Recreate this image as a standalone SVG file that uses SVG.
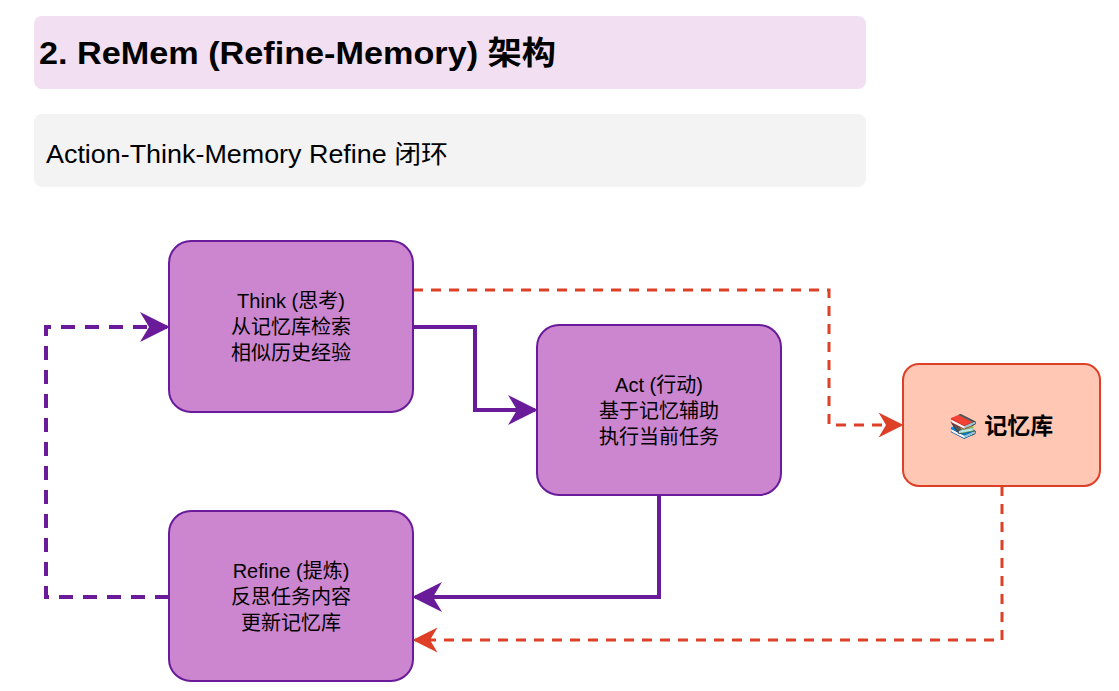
<svg xmlns="http://www.w3.org/2000/svg" width="1119" height="691" viewBox="0 0 1119 691">
<style>
text{font-family:"Liberation Sans","Noto Sans CJK SC",sans-serif;fill:#000}
.n{fill:#cb86cf;stroke:#6a1b9a;stroke-width:2}
.t{font-size:20px;text-anchor:middle}
.p{fill:none;stroke:#6a1b9a;stroke-width:4}
.r{fill:none;stroke:#dd3f27;stroke-width:3;stroke-dasharray:10 8}
</style>
<defs>
<marker id="apl" viewBox="0 0 10 10" refX="9" refY="5" markerWidth="30" markerHeight="30" markerUnits="userSpaceOnUse" orient="auto"><path d="M0,0 L10,5 L0,10 L3,5 Z" fill="#6a1b9a"/></marker>
<marker id="arl" viewBox="0 0 10 10" refX="9" refY="5" markerWidth="25" markerHeight="25" markerUnits="userSpaceOnUse" orient="auto"><path d="M0,0 L10,5 L0,10 L3,5 Z" fill="#dd3f27"/></marker>
</defs>
<g id="title"><rect x="34" y="16" width="832" height="73" rx="8" fill="#f2e0f2"/><text x="39" y="64" font-size="32" font-weight="bold" textLength="517" lengthAdjust="spacingAndGlyphs">2. ReMem (Refine-Memory) 架构</text></g>
<g id="subtitle"><rect x="34" y="114" width="832" height="73" rx="8" fill="#f3f3f3"/><text x="46" y="163" font-size="25" textLength="402" lengthAdjust="spacingAndGlyphs">Action-Think-Memory Refine 闭环</text></g>
<g id="connectors">
<path class="p" d="M413,327 H475 V410 H535" marker-end="url(#apl)"/>
<path class="p" d="M659,495 V597 H415" marker-end="url(#apl)"/>
<path class="p" d="M169,597 H46 V327 H167" stroke-dasharray="14 10" marker-end="url(#apl)"/>
<path class="r" d="M413,290 H829 V425 H901" marker-end="url(#arl)"/>
<path class="r" d="M1002,486 V640 H415" marker-end="url(#arl)"/>
</g>
<g id="think"><rect class="n" x="169" y="241" width="244" height="171" rx="22"/><text class="t" x="291" y="308">Think (思考)<tspan x="291" dy="26">从记忆库检索</tspan><tspan x="291" dy="26">相似历史经验</tspan></text></g>
<g id="act"><rect class="n" x="537" y="325" width="244" height="170" rx="22"/><text class="t" x="659" y="392">Act (行动)<tspan x="659" dy="26">基于记忆辅助</tspan><tspan x="659" dy="26">执行当前任务</tspan></text></g>
<g id="refine"><rect class="n" x="169" y="511" width="244" height="170" rx="22"/><text class="t" x="291" y="578">Refine (提炼)<tspan x="291" dy="26">反思任务内容</tspan><tspan x="291" dy="26">更新记忆库</tspan></text></g>
<g id="memory"><rect x="903" y="364" width="197" height="122" rx="16" fill="#ffc7b4" stroke="#dd3f27" stroke-width="2"/><text x="1001" y="434" font-size="23" font-weight="bold" text-anchor="middle">📚 记忆库</text></g>
</svg>
